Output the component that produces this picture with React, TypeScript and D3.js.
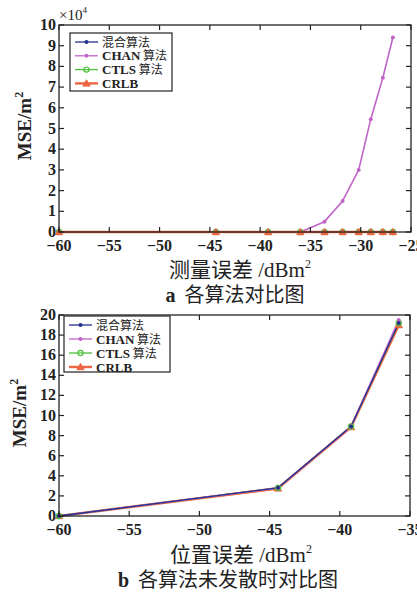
import React from "react";
import * as d3 from "d3";

const xTop = [-60, -44.4, -39.2, -36, -33.6, -31.8, -30.2, -29, -27.8, -26.8];
const hybridTop = [0, 0, 0, 0, 0, 0, 0, 0, 0, 0];
const chanTop = [0, 0, 0, 0, 0.5, 1.5, 3.0, 5.45, 7.45, 9.4];
const ctlsTop = [0, 0, 0, 0, 0, 0, 0, 0, 0, 0];
const crlbTop = [0, 0, 0, 0, 0, 0, 0, 0, 0, 0];

const xBot = [-60, -44.4, -39.2, -35.8];
const hybridBot = [0, 2.8, 8.9, 19.2];
const chanBot = [0, 2.8, 8.9, 19.5];
const ctlsBot = [0, 2.8, 8.9, 19.2];
const crlbBot = [0, 2.75, 8.85, 19.0];

const legendNames = ["混合算法", "CHAN 算法", "CTLS 算法", "CRLB"];
const xTicksTop = [-60, -55, -50, -45, -40, -35, -30, -25];
const yTicksTop = [0, 1, 2, 3, 4, 5, 6, 7, 8, 9, 10];
const xTicksBot = [-60, -55, -50, -45, -40, -35];
const yTicksBot = [0, 2, 4, 6, 8, 10, 12, 14, 16, 18, 20];

const C_BLUE = "#25308f";
const C_PURPLE = "#c064c8";
const C_GREEN = "#4cc23c";
const C_RED = "#ec6440";
const SERIF = "'Liberation Serif', 'DejaVu Serif', serif";
const CJK = "'Noto Sans CJK SC', sans-serif";

type Series = { name: string; values: number[]; color: string; width: number; marker: string };

function Marker({ type, x, y, color }: { type: string; x: number; y: number; color: string }) {
  if (type === "dot") return <circle cx={x} cy={y} r={2} fill={color} />;
  if (type === "circle") return <circle cx={x} cy={y} r={2.6} fill="none" stroke={color} strokeWidth={1.2} />;
  if (type === "tri") {
    const s = 3.6;
    return <path d={`M${x},${y - s}L${x + s},${y + s * 0.75}L${x - s},${y + s * 0.75}Z`} fill={color} stroke={color} strokeWidth={1} />;
  }
  return <circle cx={x} cy={y} r={1.6} fill={color} />;
}

function Panel(props: {
  top: number; bottom: number; left: number; right: number;
  xDomain: [number, number]; yDomain: [number, number];
  xTicks: number[]; yTicks: number[]; xs: number[]; series: Series[]; drawOrder: number[];
  legend: { x: number; y: number; w: number; h: number; step: number };
}) {
  const { top, bottom, left, right, xDomain, yDomain, xTicks, yTicks, xs, series, drawOrder, legend } = props;
  const x = d3.scaleLinear().domain(xDomain).range([left, right]);
  const y = d3.scaleLinear().domain(yDomain).range([bottom, top]);
  const line = d3.line<number>().x((_, i) => x(xs[i])).y((d) => y(d));
  const tl = 5;
  const drawn = drawOrder.map((i) => series[i]);
  return (
    <g>
      {drawn.map((s) => (
        <path key={s.name} d={line(s.values) || ""} fill="none" stroke={s.color} strokeWidth={s.width} strokeLinejoin="round" />
      ))}
      {drawn.map((s) => (
        <g key={s.name + "m"}>
          {s.values.map((v, i) => (
            <Marker key={i} type={s.marker} x={x(xs[i])} y={y(v)} color={s.color} />
          ))}
        </g>
      ))}
      <rect x={left} y={top} width={right - left} height={bottom - top} fill="none" stroke="#222" strokeWidth={1.3} />
      {xTicks.map((t) => (
        <g key={"x" + t}>
          <line x1={x(t)} x2={x(t)} y1={bottom} y2={bottom - tl} stroke="#222" strokeWidth={1.2} />
          <line x1={x(t)} x2={x(t)} y1={top} y2={top + tl} stroke="#222" strokeWidth={1.2} />
          <text x={x(t)} y={bottom + 19} textAnchor="middle" fontFamily={SERIF} fontWeight="bold" fontSize={16} fill="#222">
            {t < 0 ? "\u2212" + Math.abs(t) : String(t)}
          </text>
        </g>
      ))}
      {yTicks.map((t) => (
        <g key={"y" + t}>
          <line x1={left} x2={left + tl} y1={y(t)} y2={y(t)} stroke="#222" strokeWidth={1.2} />
          <line x1={right} x2={right - tl} y1={y(t)} y2={y(t)} stroke="#222" strokeWidth={1.2} />
          <text x={left - 3} y={y(t) + 5} textAnchor="end" fontFamily={SERIF} fontWeight="bold" fontSize={16} fill="#222">
            {t}
          </text>
        </g>
      ))}
      <rect x={legend.x} y={legend.y} width={legend.w} height={legend.h} fill="white" stroke="#333" strokeWidth={1.3} />
      {series.map((s, i) => {
        const ly = legend.y + 9 + i * legend.step;
        return (
          <g key={"l" + s.name}>
            <line x1={legend.x + 5} x2={legend.x + 28} y1={ly} y2={ly} stroke={s.color} strokeWidth={s.width > 2 ? 2.4 : 1.3} />
            <Marker type={s.marker} x={legend.x + 16.5} y={ly} color={s.color} />
            <text x={legend.x + 32} y={ly + 4.5} fontFamily={SERIF} fontWeight="bold" fontSize={13} fill="#222">
              {s.name.split(" ").map((p, j) =>
                /[\u4e00-\u9fff]/.test(p) ? (
                  <tspan key={j} fontFamily={CJK} fontWeight="normal" fontSize={12}>{(j > 0 ? " " : "") + p}</tspan>
                ) : (
                  <tspan key={j}>{p}</tspan>
                )
              )}
            </text>
          </g>
        );
      })}
    </g>
  );
}

export default function App() {
  const mk = (vals: number[][]): Series[] => [
    { name: legendNames[0], values: vals[0], color: C_BLUE, width: 1.3, marker: "dot" },
    { name: legendNames[1], values: vals[1], color: C_PURPLE, width: 1.6, marker: "dot" },
    { name: legendNames[2], values: vals[2], color: C_GREEN, width: 1.3, marker: "circle" },
    { name: legendNames[3], values: vals[3], color: C_RED, width: 2.6, marker: "tri" },
  ];
  const topSeries = mk([hybridTop, chanTop, ctlsTop, crlbTop]);
  const botSeries = mk([hybridBot, chanBot, ctlsBot, crlbBot]);
  return (
    <svg width={417} height={592} style={{ position: "absolute", left: 0, top: 0, background: "#fff" }}>
      <rect x={0} y={0} width={417} height={592} fill="#fff" />
      <Panel top={25} bottom={232} left={59} right={411} xDomain={[-60, -25]} yDomain={[0, 10]}
        xTicks={xTicksTop} yTicks={yTicksTop} xs={xTop} series={topSeries} drawOrder={[1, 0, 2, 3]}
        legend={{ x: 70, y: 33, w: 102, h: 58, step: 13.8 }} />
      <text x={59} y={20} fontFamily={SERIF} fontSize={15} fill="#222">
        ×10<tspan fontSize={9} dy={-7}>4</tspan>
      </text>
      <text transform="translate(31,126) rotate(-90)" textAnchor="middle" fontFamily={SERIF} fontWeight="bold" fontSize={19} fill="#222">
        MSE/m<tspan fontSize={12} dy={-8}>2</tspan>
      </text>
      <text x={240} y={277} textAnchor="middle" fontSize={21} fill="#222">
        <tspan fontFamily={CJK}>测量误差</tspan>
        <tspan fontFamily={SERIF}> /dBm</tspan>
        <tspan fontFamily={SERIF} fontSize={12} dy={-9}>2</tspan>
      </text>
      <text x={235} y={302} textAnchor="middle" fontSize={20} fill="#222">
        <tspan fontFamily={SERIF} fontWeight="bold">a</tspan>
        <tspan fontFamily={CJK}>{"\u00a0\u00a0各算法对比图"}</tspan>
      </text>

      <Panel top={315} bottom={516} left={59} right={410} xDomain={[-60, -35]} yDomain={[0, 20]}
        xTicks={xTicksBot} yTicks={yTicksBot} xs={xBot} series={botSeries} drawOrder={[3, 2, 1, 0]}
        legend={{ x: 64, y: 316, w: 106, h: 56, step: 14 }} />
      <text transform="translate(26,413) rotate(-90)" textAnchor="middle" fontFamily={SERIF} fontWeight="bold" fontSize={19} fill="#222">
        MSE/m<tspan fontSize={12} dy={-8}>2</tspan>
      </text>
      <text x={241} y={562} textAnchor="middle" fontSize={21} fill="#222">
        <tspan fontFamily={CJK}>位置误差</tspan>
        <tspan fontFamily={SERIF}> /dBm</tspan>
        <tspan fontFamily={SERIF} fontSize={12} dy={-9}>2</tspan>
      </text>
      <text x={228} y={587} textAnchor="middle" fontSize={20} fill="#222">
        <tspan fontFamily={SERIF} fontWeight="bold">b</tspan>
        <tspan fontFamily={CJK}>{"\u00a0\u00a0各算法未发散时对比图"}</tspan>
      </text>
    </svg>
  );
}
